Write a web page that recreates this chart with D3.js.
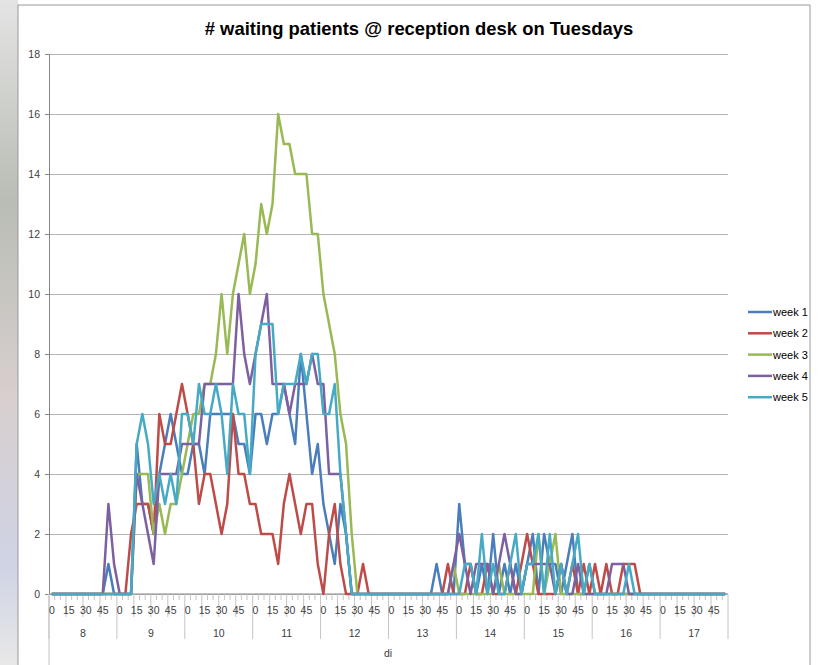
<!DOCTYPE html>
<html>
<head>
<meta charset="utf-8">
<title>waiting patients</title>
<script src="https://cdn.jsdelivr.net/npm/d3@7"></script>
<style>
body { margin: 0; background: #fff; }
.title { font: bold 18.4px "Liberation Sans", Arial, sans-serif; fill: #000; }
.lbl { font: 10.5px "Liberation Sans", Arial, sans-serif; fill: #404040; }
.leg { font: 11px "Liberation Sans", Arial, sans-serif; fill: #000; }
</style>
</head>
<body>
<script>
// categories: hour x 5-minute slot
var hours = [8, 9, 10, 11, 12, 13, 14, 15, 16, 17];
var minutes = [0, 5, 10, 15, 20, 25, 30, 35, 40, 45, 50, 55];
var minuteLabels = [0, 15, 30, 45];
var yTicks = [0, 2, 4, 6, 8, 10, 12, 14, 16, 18];
var seriesNames = ["week 1", "week 2", "week 3", "week 4", "week 5"];
var seriesColors = ["#4a7ebb", "#be4b48", "#98b954", "#7d60a0", "#46aac5"];

// one row per hour (8 .. 17), 12 values each
var week1 = [
  0,0,0,0,0,0,0,0,0,0,1,0,
  0,0,0,5,3,3,2,4,5,6,5,4,
  4,5,5,4,6,6,6,6,6,5,5,4,
  6,6,5,6,6,7,6,5,8,6,4,5,
  3,2,1,3,2,0,0,0,0,0,0,0,
  0,0,0,0,0,0,0,0,1,0,0,0,
  3,1,1,0,1,0,2,0,1,0,1,0,
  1,2,0,2,1,1,0,1,2,0,0,1,
  0,0,0,0,0,0,0,0,0,0,0,0,
  0,0,0,0,0,0,0,0,0,0,0,0
];
var week2 = [
  0,0,0,0,0,0,0,0,0,0,0,0,
  0,0,2,3,3,3,2,6,5,5,6,7,
  6,5,3,4,4,3,2,3,6,4,4,3,
  3,2,2,2,1,3,4,3,2,3,3,1,
  0,2,3,1,0,0,0,1,0,0,0,0,
  0,0,0,0,0,0,0,0,0,0,1,0,
  0,0,1,0,0,1,0,0,0,1,0,1,
  2,1,0,0,0,0,1,0,1,0,1,0,
  1,0,1,0,0,1,1,1,0,0,0,0,
  0,0,0,0,0,0,0,0,0,0,0,0
];
var week3 = [
  0,0,0,0,0,0,0,0,0,0,0,0,
  0,0,0,4,4,4,2,3,2,3,3,4,
  5,6,6,7,7,8,10,8,10,11,12,10,
  11,13,12,13,16,15,15,14,14,14,12,12,
  10,9,8,6,5,2,0,0,0,0,0,0,
  0,0,0,0,0,0,0,0,0,0,0,1,
  0,0,0,0,0,0,0,1,0,0,0,0,
  0,0,2,0,1,2,0,0,0,0,0,0,
  0,0,0,0,0,0,0,0,0,0,0,0,
  0,0,0,0,0,0,0,0,0,0,0,0
];
var week4 = [
  0,0,0,0,0,0,0,0,0,0,3,1,
  0,0,0,4,3,2,1,4,4,4,4,5,
  5,5,5,7,7,7,7,7,7,10,8,7,
  8,9,10,7,7,7,6,7,7,7,8,7,
  7,4,4,4,2,0,0,0,0,0,0,0,
  0,0,0,0,0,0,0,0,0,0,0,1,
  2,1,0,1,1,1,0,1,2,1,0,0,
  1,1,1,1,1,0,1,0,0,1,0,0,
  0,0,0,1,1,1,0,0,0,0,0,0,
  0,0,0,0,0,0,0,0,0,0,0,0
];
var week5 = [
  0,0,0,0,0,0,0,0,0,0,0,0,
  0,0,0,5,6,5,3,4,3,4,3,6,
  6,5,7,6,6,7,6,4,7,6,6,4,
  8,9,9,9,6,7,7,7,8,7,8,8,
  6,6,7,4,2,0,0,0,0,0,0,0,
  0,0,0,0,0,0,0,0,0,0,0,0,
  0,1,1,0,2,0,1,0,0,1,2,0,
  1,1,2,0,2,0,1,0,1,2,0,1,
  0,0,0,0,0,0,1,0,0,0,0,0,
  0,0,0,0,0,0,0,0,0,0,0,0
];
var allWeeks = [week1, week2, week3, week4, week5];

var width = 821, height = 665;
var margin = {left: 49, right: 93, top: 54, bottom: 71};

var keys = [];
hours.forEach(function(h) {
  minutes.forEach(function(m) { keys.push(h + ":" + m); });
});

var svg = d3.select("body").append("svg")
    .attr("width", width)
    .attr("height", height);

// blurred strip of the page behind the chart on the left
var grad = svg.append("defs").append("linearGradient")
    .attr("id", "strip").attr("x1", 0).attr("y1", 0).attr("x2", 0).attr("y2", 1);
grad.append("stop").attr("offset", "0").attr("stop-color", "#e4e4e4");
grad.append("stop").attr("offset", "0.3").attr("stop-color", "#b9bdb4");
grad.append("stop").attr("offset", "0.6").attr("stop-color", "#d8cfcf");
grad.append("stop").attr("offset", "0.85").attr("stop-color", "#cfd3e4");
grad.append("stop").attr("offset", "1").attr("stop-color", "#e8e8e8");
svg.append("rect").attr("x", 0).attr("y", 0).attr("width", 18).attr("height", height)
    .attr("fill", "url(#strip)");
svg.append("rect").attr("x", 18).attr("y", 5).attr("width", 792).attr("height", height + 10)
    .attr("fill", "#fff").attr("stroke", "#9a9a9a");

var x = d3.scaleBand()
    .domain(keys)
    .range([margin.left, width - margin.right])
    .padding(0);

var y = d3.scaleLinear()
    .domain([0, 18])
    .range([height - margin.bottom - 0, margin.top]);

var bw = x.bandwidth();

svg.append("text")
    .attr("class", "title")
    .attr("x", 419)
    .attr("y", 35)
    .attr("text-anchor", "middle")
    .text("# waiting patients @ reception desk on Tuesdays");

// gridlines
svg.append("g")
    .attr("transform", "translate(" + margin.left + ",0)")
    .call(d3.axisLeft(y).tickValues(yTicks).tickSize(-(width - margin.right - margin.left)).tickFormat(""))
    .call(function(g) {
      g.select(".domain").remove();
      g.selectAll("line").attr("stroke", "#b4b4b4");
    });

// y axis
svg.append("g")
    .attr("transform", "translate(" + margin.left + ",0)")
    .call(d3.axisLeft(y).tickValues(yTicks).tickSize(4).tickPadding(5))
    .call(function(g) {
      g.select(".domain").attr("stroke", "#868686");
      g.selectAll("line").attr("stroke", "#868686");
      g.selectAll("text").attr("class", "lbl").attr("fill", null);
    });

// x axis: minute ticks, labels, hour groups
var y0 = y(0);
var xa = svg.append("g").attr("class", "xaxis");
xa.append("line")
    .attr("x1", margin.left).attr("x2", width - margin.right)
    .attr("y1", y0).attr("y2", y0)
    .attr("stroke", "#868686");

xa.selectAll(".mtick")
    .data(keys)
    .enter().append("line")
    .attr("x1", function(d) { return x(d); })
    .attr("x2", function(d) { return x(d); })
    .attr("y1", y0)
    .attr("y2", function(d, i) { return i % 12 === 0 ? y0 + 45 : (i % 3 === 0 ? y0 + 23 : y0 + 6); })
    .attr("stroke", "#c4c4c4");

xa.append("line")
    .attr("x1", width - margin.right).attr("x2", width - margin.right)
    .attr("y1", y0).attr("y2", y0 + 45)
    .attr("stroke", "#c4c4c4");
xa.append("line")
    .attr("x1", margin.left).attr("x2", margin.left)
    .attr("y1", y0).attr("y2", height)
    .attr("stroke", "#c4c4c4");

xa.selectAll(".mlabel")
    .data(keys.filter(function(d, i) { return minuteLabels.indexOf(minutes[i % 12]) >= 0; }))
    .enter().append("text")
    .attr("class", "lbl")
    .attr("x", function(d) { return x(d) + bw / 2; })
    .attr("y", y0 + 20)
    .attr("text-anchor", "middle")
    .text(function(d) { return d.split(":")[1]; });

xa.selectAll(".hlabel")
    .data(hours)
    .enter().append("text")
    .attr("class", "lbl")
    .attr("x", function(h) { return x(h + ":0") + bw * 6; })
    .attr("y", y0 + 43)
    .attr("text-anchor", "middle")
    .text(function(h) { return h; });

svg.append("text")
    .attr("class", "lbl")
    .attr("x", 388)
    .attr("y", y0 + 63)
    .attr("text-anchor", "middle")
    .text("di");

// series
var line = d3.line()
    .x(function(d, i) { return x(keys[i]) + bw / 2; })
    .y(function(d) { return y(d); });

svg.append("g").selectAll("path")
    .data(allWeeks)
    .enter().append("path")
    .attr("d", line)
    .attr("fill", "none")
    .attr("stroke", function(d, i) { return seriesColors[i]; })
    .attr("stroke-width", 2.5)
    .attr("stroke-linejoin", "round");

// legend
var legend = svg.append("g")
    .attr("transform", "translate(748,312)");
var item = legend.selectAll("g")
    .data(seriesNames)
    .enter().append("g")
    .attr("transform", function(d, i) { return "translate(0," + (i * 21.3) + ")"; });
item.append("line")
    .attr("x1", 0).attr("x2", 24)
    .attr("stroke", function(d, i) { return seriesColors[i]; })
    .attr("stroke-width", 2.5);
item.append("text")
    .attr("class", "leg")
    .attr("x", 25)
    .attr("y", 4)
    .text(function(d) { return d; });
</script>
</body>
</html>
